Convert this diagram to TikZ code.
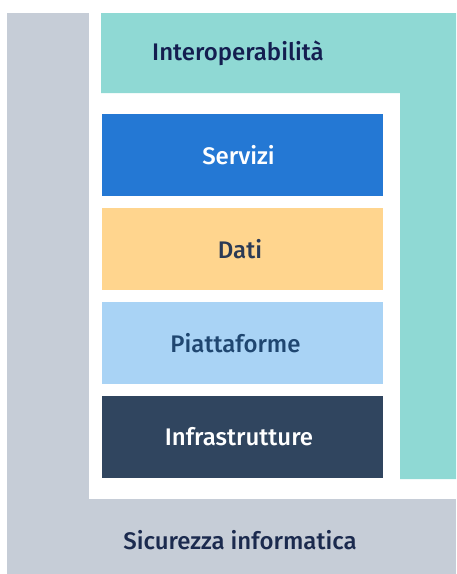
\documentclass[tikz,border=0pt]{standalone}
\usepackage{fontspec}
\setmainfont{Fira Sans}[UprightFont=* Medium, BoldFont=* SemiBold]
\definecolor{grayBg}{HTML}{C6CDD7}
\definecolor{tealC}{HTML}{8FD9D4}
\definecolor{blueC}{HTML}{2478D4}
\definecolor{yellowC}{HTML}{FFD58E}
\definecolor{lightBlueC}{HTML}{A9D3F5}
\definecolor{darkC}{HTML}{30455F}
\definecolor{navyT}{HTML}{141E50}
\definecolor{navyS}{HTML}{1B2A4E}
\definecolor{pianoT}{HTML}{1F4670}
\definecolor{datiT}{HTML}{2B3A55}
\begin{document}
\begin{tikzpicture}[x=1pt,y=-1pt,
  layer/.style={draw=none, minimum width=281pt, minimum height=82pt, inner sep=0pt,
    font=\fontsize{24}{28}\selectfont},
  label/.style={inner sep=0pt, font=\fontsize{24}{28}\selectfont}]
\useasboundingbox (0,0) rectangle (456,574);
\fill[white] (0,0) rectangle (456,574);
\fill[grayBg] (7,13) rectangle (456,574);
\fill[white] (89,13) rectangle (456,499);
\fill[tealC] (101,13) -- (456,13) -- (456,479) -- (400,479) -- (400,93) -- (101,93) -- cycle;
\node[layer, fill=blueC, text=white] (servizi) at (242.5,155) {\hspace*{-8pt}Servizi};
\node[layer, fill=yellowC, text=datiT] (dati) at (242.5,249) {\hspace*{-5pt}Dati};
\node[layer, fill=lightBlueC, text=pianoT] (piattaforme) at (242.5,343) {\hspace*{-14pt}Piattaforme};
\node[layer, fill=darkC, text=white] (infra) at (242.5,437) {\hspace*{-7pt}Infrastrutture};
\node[label, anchor=base, text=navyT] (interop) at (238,60) {Interoperabilità};
\node[label, anchor=base, text=navyS] (sicurezza) at (240,549) {Sicurezza informatica};
\end{tikzpicture}
\end{document}
